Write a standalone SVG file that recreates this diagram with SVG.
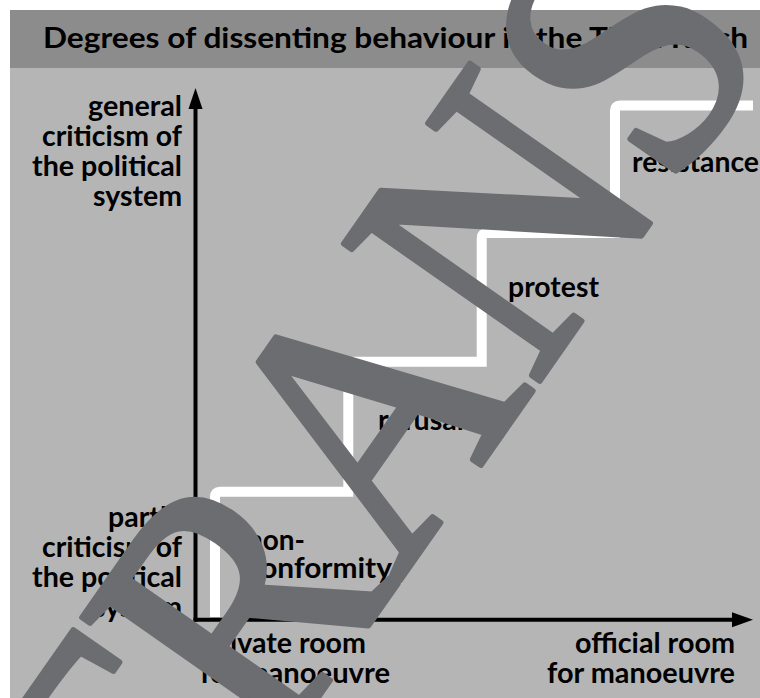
<svg xmlns="http://www.w3.org/2000/svg" width="760" height="698" viewBox="0 0 760 698">
  <defs>
    <style>
      .lbl { font-family: Lato, "Open Sans", "Liberation Sans", sans-serif; font-weight: bold; font-size: 28px; fill: #000; }
      .ttl { font-family: Lato, "Open Sans", "Liberation Sans", sans-serif; font-weight: bold; font-size: 29px; fill: #000; }
      .axis { stroke: #000; stroke-width: 4; fill: none; }
      .head { fill: #000; }
      .stair { stroke: #fff; stroke-width: 10; fill: none; }
      .wm { font-family: "Liberation Serif", "Times New Roman", serif; font-size: 365px; fill: #6c6d71; stroke: #6c6d71; stroke-width: 6; stroke-linejoin: round; }
    </style>
  </defs>
  <rect x="0" y="0" width="760" height="698" fill="#ffffff"/>
  <rect x="10" y="10" width="750" height="58" fill="#8c8c8c"/>
  <rect x="10" y="68" width="750" height="630" fill="#b5b5b5"/>

  <g id="title">
    <text class="ttl" x="43" y="48" textLength="705" lengthAdjust="spacingAndGlyphs">Degrees of dissenting behaviour in the Third Reich</text>
  </g>

  <g id="staircase">
    <path class="stair" d="M215,617 V496.7 Q215,491.7 220,491.7 H348.3 V366.7 Q348.3,361.7 353.3,361.7 H481.7 V238 Q481.7,233 486.7,233 H615 V110.5 Q615,105.5 620,105.5 H753"/>
  </g>

  <g id="connectors">
    <line class="axis" x1="195.5" y1="621.7" x2="195.5" y2="106"/>
    <polygon class="head" points="195.5,88 202.5,109 188.5,109"/>
    <line class="axis" x1="193.5" y1="619.7" x2="735" y2="619.7"/>
    <polygon class="head" points="753,619.7 732,612.2 732,627.2"/>
  </g>

  <g id="y-high">
    <text class="lbl" x="88" y="116" textLength="94" lengthAdjust="spacingAndGlyphs">general</text>
    <text class="lbl" x="42" y="146" textLength="140" lengthAdjust="spacingAndGlyphs">criticism of</text>
    <text class="lbl" x="32" y="176" textLength="150" lengthAdjust="spacingAndGlyphs">the political</text>
    <text class="lbl" x="93" y="206" textLength="89" lengthAdjust="spacingAndGlyphs">system</text>
  </g>
  <g id="y-low">
    <text class="lbl" x="108" y="527" textLength="74" lengthAdjust="spacingAndGlyphs">partly</text>
    <text class="lbl" x="42" y="557" textLength="140" lengthAdjust="spacingAndGlyphs">criticism of</text>
    <text class="lbl" x="32" y="587" textLength="150" lengthAdjust="spacingAndGlyphs">the political</text>
    <text class="lbl" x="93" y="617" textLength="89" lengthAdjust="spacingAndGlyphs">system</text>
  </g>
  <g id="x-low">
    <text class="lbl" x="203" y="653" textLength="163" lengthAdjust="spacingAndGlyphs">private room</text>
    <text class="lbl" x="200" y="683" textLength="190" lengthAdjust="spacingAndGlyphs">for manoeuvre</text>
  </g>
  <g id="x-high">
    <text class="lbl" x="575" y="653" textLength="160" lengthAdjust="spacingAndGlyphs">official room</text>
    <text class="lbl" x="547" y="683" textLength="188" lengthAdjust="spacingAndGlyphs">for manoeuvre</text>
  </g>
  <g id="step-nonconformity">
    <text class="lbl" x="247" y="550" textLength="58" lengthAdjust="spacingAndGlyphs">non-</text>
    <text class="lbl" x="246" y="578" textLength="146" lengthAdjust="spacingAndGlyphs">conformity</text>
  </g>
  <g id="step-refusal">
    <text class="lbl" x="378" y="430" textLength="86" lengthAdjust="spacingAndGlyphs">refusal</text>
  </g>
  <g id="step-protest">
    <text class="lbl" x="508" y="297" textLength="91" lengthAdjust="spacingAndGlyphs">protest</text>
  </g>
  <g id="step-resistance">
    <text class="lbl" x="632" y="172" textLength="127" lengthAdjust="spacingAndGlyphs">resistance</text>
  </g>

  <g id="watermark">
    <text class="wm" transform="translate(466,486) rotate(-55) scale(0.9,1)" x="-598" y="0">TRANS</text>
  </g>
</svg>
